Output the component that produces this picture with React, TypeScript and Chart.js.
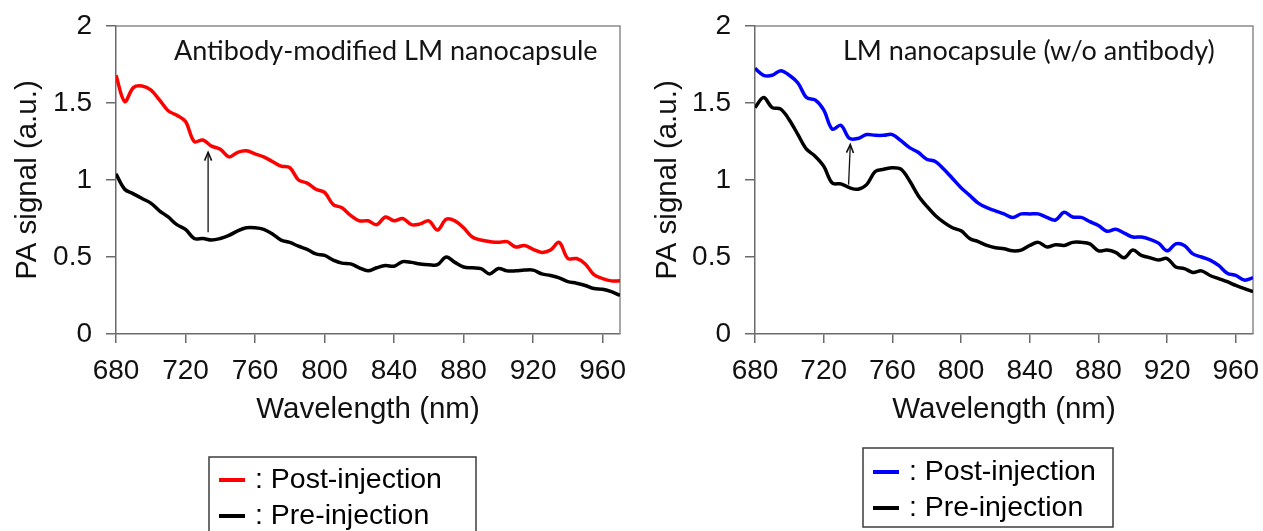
import React, { useEffect, useRef } from "react";
import { Chart, registerables } from "chart.js";

Chart.register(...registerables);

// Wavelength grid (nm) shared by all four spectra
const wavelengths = [
  680, 685, 690, 695, 700, 705, 710, 715, 720, 725, 730, 735, 740, 745, 750,
  755, 760, 765, 770, 775, 780, 785, 790, 795, 800, 805, 810, 815, 820, 825,
  830, 835, 840, 845, 850, 855, 860, 865, 870, 875, 880, 885, 890, 895, 900,
  905, 910, 915, 920, 925, 930, 935, 940, 945, 950, 955, 960, 965, 970,
];

const xTicks = [680, 720, 760, 800, 840, 880, 920, 960];
const yTicks = [0, 0.5, 1, 1.5, 2];

// Antibody-modified LM nanocapsule
const antibodyPost = [
  1.68, 1.51, 1.6, 1.61, 1.585, 1.52, 1.45, 1.42, 1.38, 1.25, 1.26, 1.22, 1.2, 1.15, 1.18,
  1.19, 1.17, 1.15, 1.12, 1.09, 1.08, 1.0, 0.98, 0.94, 0.92, 0.84, 0.82, 0.77, 0.735, 0.735,
  0.71, 0.76, 0.735, 0.75, 0.71, 0.715, 0.735, 0.675, 0.745, 0.735, 0.69, 0.63, 0.61, 0.6, 0.595,
  0.6, 0.565, 0.575, 0.55, 0.53, 0.545, 0.595, 0.49, 0.49, 0.455, 0.385, 0.36, 0.345, 0.345,
];
const antibodyPre = [
  1.04, 0.94, 0.91, 0.88, 0.85, 0.8, 0.76, 0.71, 0.68, 0.62, 0.62, 0.61, 0.62, 0.64, 0.67,
  0.69, 0.69, 0.68, 0.65, 0.61, 0.595, 0.57, 0.55, 0.52, 0.51, 0.48, 0.46, 0.455, 0.43, 0.41,
  0.43, 0.445, 0.44, 0.47, 0.465, 0.455, 0.45, 0.45, 0.5, 0.465, 0.435, 0.43, 0.425, 0.39, 0.425,
  0.41, 0.41, 0.415, 0.415, 0.39, 0.38, 0.365, 0.34, 0.33, 0.315, 0.295, 0.29, 0.275, 0.25,
];

// LM nanocapsule without antibody
const plainPost = [
  1.725, 1.68, 1.68, 1.71, 1.68, 1.63, 1.535, 1.52, 1.455, 1.33, 1.355, 1.27, 1.27, 1.295, 1.29,
  1.29, 1.295, 1.255, 1.21, 1.18, 1.135, 1.12, 1.07, 1.01, 0.95, 0.9, 0.85, 0.82, 0.8, 0.78,
  0.757, 0.78, 0.78, 0.78, 0.757, 0.74, 0.79, 0.76, 0.757, 0.73, 0.705, 0.667, 0.68, 0.655, 0.63,
  0.63, 0.615, 0.59, 0.54, 0.585, 0.575, 0.52, 0.5, 0.48, 0.445, 0.395, 0.38, 0.35, 0.365,
];
const plainPre = [
  1.47, 1.535, 1.47, 1.46, 1.39, 1.295, 1.2, 1.155, 1.09, 0.98, 0.975, 0.95, 0.94, 0.97, 1.055,
  1.07, 1.08, 1.07, 0.995, 0.9, 0.83, 0.77, 0.725, 0.69, 0.67, 0.62, 0.6, 0.575, 0.56, 0.553,
  0.54, 0.545, 0.575, 0.595, 0.565, 0.58, 0.575, 0.595, 0.595, 0.585, 0.54, 0.545, 0.53, 0.495, 0.545,
  0.51, 0.495, 0.48, 0.49, 0.435, 0.425, 0.4, 0.41, 0.38, 0.36, 0.34, 0.315, 0.295, 0.275,
];

// Arrows marking the signal rise: [wavelength, signal] start -> end
const antibodyArrow = [
  [733, 0.66],
  [733, 1.18],
];
const plainArrow = [
  [734.5, 0.97],
  [735.5, 1.23],
];

const seriesLabels = ["Post-injection", "Pre-injection"];

const SANS = "'Liberation Sans', Arial, sans-serif";
const TITLE_FONT = "Lato, 'Open Sans', sans-serif";
const AXIS = "#6b6b6b";
const FRAME = "#8a8a8a";

type Panel = {
  title: string;
  titleDx: number;
  post: number[];
  pre: number[];
  postColor: string;
  arrow: number[][];
  yAxisWidth: number;
  yTitlePad: number;
  padRight: number;
  legend: { x: number; y: number; w: number; h: number; row1: number; row2: number };
};

const W = 631;
const H = 531;

const decor = {
  id: "panelDecor",
  beforeDatasetsDraw(chart: any) {
    const { ctx, chartArea: ca } = chart;
    ctx.save();
    ctx.strokeStyle = FRAME;
    ctx.lineWidth = 1.5;
    ctx.beginPath();
    ctx.moveTo(ca.left, ca.top);
    ctx.lineTo(ca.right, ca.top);
    ctx.lineTo(ca.right, ca.bottom);
    ctx.stroke();
    ctx.restore();
  },
  afterDatasetsDraw(chart: any, _a: any, opts: any) {
    const { ctx, chartArea: ca, scales } = chart;
    const p: Panel = opts.panel;
    ctx.save();
    // panel title
    ctx.fillStyle = "#141414";
    ctx.font = `27px ${TITLE_FONT}`;
    ctx.textBaseline = "alphabetic";
    ctx.textAlign = "left";
    ctx.fillText(p.title, ca.left + p.titleDx, 60);

    // arrow
    const [a, b] = p.arrow;
    const x1 = scales.x.getPixelForValue(a[0]);
    const y1 = scales.y.getPixelForValue(a[1]);
    const x2 = scales.x.getPixelForValue(b[0]);
    const y2 = scales.y.getPixelForValue(b[1]);
    ctx.strokeStyle = "#111";
    ctx.lineWidth = 1.3;
    ctx.beginPath();
    ctx.moveTo(x1, y1);
    ctx.lineTo(x2, y2);
    ctx.stroke();
    const ang = Math.atan2(y2 - y1, x2 - x1);
    const hl = 9;
    ctx.beginPath();
    ctx.moveTo(x2 - hl * Math.cos(ang - 0.4), y2 - hl * Math.sin(ang - 0.4));
    ctx.lineTo(x2, y2);
    ctx.lineTo(x2 - hl * Math.cos(ang + 0.4), y2 - hl * Math.sin(ang + 0.4));
    ctx.lineWidth = 1.6;
    ctx.stroke();
    ctx.restore();
  },
  afterDraw(chart: any, _a: any, opts: any) {
    const { ctx } = chart;
    const p: Panel = opts.panel;
    const L = p.legend;
    ctx.save();
    ctx.strokeStyle = "#3c3c3c";
    ctx.lineWidth = 1.5;
    ctx.strokeRect(L.x, L.y, L.w, L.h);
    const rows = [L.row1, L.row2];
    chart.data.datasets.forEach((ds: any, i: number) => {
      const y = rows[i];
      ctx.strokeStyle = ds.borderColor;
      ctx.lineWidth = 4;
      ctx.beginPath();
      ctx.moveTo(L.x + 10, y);
      ctx.lineTo(L.x + 36, y);
      ctx.stroke();
      ctx.fillStyle = "#000";
      ctx.font = `28.5px ${SANS}`;
      ctx.textBaseline = "middle";
      ctx.textAlign = "left";
      ctx.fillText(`: ${ds.label}`, L.x + 46, y);
    });
    ctx.restore();
  },
};

function makeConfig(p: Panel): any {
  const toPoints = (vals: number[]) => wavelengths.map((w, i) => ({ x: w, y: vals[i] }));
  const line = (label: string, vals: number[], color: string) => ({
    label,
    data: toPoints(vals),
    borderColor: color,
    borderWidth: 3.5,
    pointRadius: 0,
    tension: 0.35,
    fill: false,
  });
  return {
    type: "line",
    data: {
      datasets: [
        line(seriesLabels[0], p.post, p.postColor),
        line(seriesLabels[1], p.pre, "#000000"),
      ],
    },
    options: {
      responsive: false,
      animation: false,
      devicePixelRatio: 1,
      events: [],
      layout: { padding: { left: 0, top: 26, right: p.padRight, bottom: 102 } },
      plugins: {
        legend: { display: false },
        tooltip: { enabled: false },
        panelDecor: { panel: p },
      },
      scales: {
        x: {
          type: "linear",
          min: 680,
          max: 970,
          afterBuildTicks: (s: any) => {
            s.ticks = xTicks.map((v) => ({ value: v }));
          },
          afterFit: (s: any) => {
            s.height = 95;
            s.paddingLeft = 0;
            s.paddingRight = 0;
          },
          grid: {
            drawOnChartArea: false,
            drawTicks: true,
            tickLength: 9,
            color: AXIS,
            lineWidth: 1.5,
          },
          border: { display: true, color: AXIS, width: 1.5 },
          ticks: {
            font: { family: SANS, size: 28 },
            color: "#111",
            padding: 11,
            maxRotation: 0,
            autoSkip: false,
            callback: (v: number) => String(v),
          },
          title: {
            display: true,
            text: "Wavelength (nm)",
            font: { family: SANS, size: 29.5 },
            color: "#111",
            padding: { top: 0, bottom: 1 },
          },
        },
        y: {
          type: "linear",
          min: 0,
          max: 2,
          afterBuildTicks: (s: any) => {
            s.ticks = yTicks.map((v) => ({ value: v }));
          },
          afterFit: (s: any) => {
            s.width = p.yAxisWidth;
            s.paddingTop = 0;
            s.paddingBottom = 0;
          },
          grid: {
            drawOnChartArea: false,
            drawTicks: true,
            tickLength: 10,
            color: AXIS,
            lineWidth: 1.5,
          },
          border: { display: true, color: AXIS, width: 1.5 },
          ticks: {
            font: { family: SANS, size: 28 },
            color: "#111",
            padding: 14,
            callback: (v: number) => String(v),
          },
          title: {
            display: true,
            text: "PA signal (a.u.)",
            font: { family: SANS, size: 29.5 },
            color: "#111",
            padding: { top: p.yTitlePad, bottom: 0 },
          },
        },
      },
    },
    plugins: [decor],
  };
}

const panels: Panel[] = [
  {
    title: "Antibody-modified LM nanocapsule",
    titleDx: 58,
    post: antibodyPost,
    pre: antibodyPre,
    postColor: "#ff0000",
    arrow: antibodyArrow,
    yAxisWidth: 116,
    yTitlePad: 10,
    padRight: 11,
    legend: { x: 209, y: 457, w: 267, h: 90, row1: 480, row2: 516 },
  },
  {
    title: "LM nanocapsule (w/o antibody)",
    titleDx: 88,
    post: plainPost,
    pre: plainPre,
    postColor: "#0000ff",
    arrow: plainArrow,
    yAxisWidth: 123,
    yTitlePad: 18,
    padRight: 10,
    legend: { x: 231, y: 448, w: 250, h: 79, row1: 472, row2: 508 },
  },
];

function PanelChart({ panel, left }: { panel: Panel; left: number }) {
  const ref = useRef<HTMLCanvasElement>(null);
  useEffect(() => {
    if (!ref.current) return;
    const chart = new Chart(ref.current, makeConfig(panel));
    return () => chart.destroy();
  }, [panel]);
  return (
    <canvas
      ref={ref}
      width={W}
      height={H}
      style={{ position: "absolute", left, top: 0, width: W, height: H }}
    />
  );
}

export default function App() {
  return (
    <div
      style={{
        position: "fixed",
        left: 0,
        top: 0,
        width: 1263,
        height: 531,
        background: "#ffffff",
        overflow: "hidden",
      }}
    >
      <PanelChart panel={panels[0]} left={0} />
      <PanelChart panel={panels[1]} left={632} />
    </div>
  );
}
